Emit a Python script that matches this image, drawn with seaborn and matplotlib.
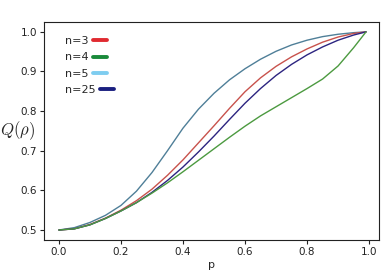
import matplotlib
matplotlib.use('Agg')
import matplotlib.pyplot as plt
from matplotlib.lines import Line2D
import pandas as pd
import seaborn as sns

sns.set_theme(style='ticks')
plt.rcParams['font.family'] = ['DejaVu Sans']
plt.rcParams['mathtext.fontset'] = 'cm'

# values
p = [0, .05, .1, .15, .2, .25, .3, .35, .4, .45, .5,
     .55, .6, .65, .7, .75, .8, .85, .9, .95, .99]
q_n5 = [0.5, 0.506, 0.519, 0.537, 0.562, 0.598, 0.645, 0.70, 0.757, 0.805, 0.845,
        0.879, 0.907, 0.931, 0.951, 0.967, 0.979, 0.988, 0.994, 0.998, 1.0]
q_n3 = [0.5, 0.503, 0.514, 0.53, 0.55, 0.574, 0.603, 0.638, 0.677, 0.72, 0.763,
        0.807, 0.849, 0.884, 0.913, 0.937, 0.957, 0.974, 0.987, 0.996, 1.0]
q_n25 = [0.5, 0.503, 0.513, 0.529, 0.548, 0.569, 0.595, 0.625, 0.659, 0.697, 0.737,
         0.779, 0.82, 0.857, 0.89, 0.918, 0.942, 0.962, 0.979, 0.992, 1.0]
q_n4 = [0.5, 0.503, 0.513, 0.529, 0.548, 0.569, 0.593, 0.619, 0.647, 0.676, 0.705,
        0.734, 0.762, 0.788, 0.811, 0.834, 0.857, 0.881, 0.914, 0.96, 1.0]

labels = ['n=3', 'n=4', 'n=5', 'n=25']
legend_colors = ['#e02a30', '#1a8a3a', '#7ecdf0', '#1a1f80']

df = pd.DataFrame({
    'p': p * 4,
    'Q': q_n5 + q_n3 + q_n25 + q_n4,
    'n': ['n=5'] * len(p) + ['n=3'] * len(p) + ['n=25'] * len(p) + ['n=4'] * len(p),
})
line_colors = {'n=5': '#4f7f98', 'n=3': '#c8524c', 'n=25': '#2c2480', 'n=4': '#4c9a40'}

fig = plt.figure(figsize=(3.86, 2.78), dpi=100)
ax = fig.add_axes([0.114, 0.137, 0.868, 0.784])
sns.lineplot(data=df, x='p', y='Q', hue='n', palette=line_colors,
             linewidth=1.0, legend=False, ax=ax)

ax.set_xlim(-0.048, 1.032)
ax.set_ylim(0.475, 1.025)
ax.set_xticks([0.0, 0.2, 0.4, 0.6, 0.8, 1.0])
ax.set_yticks([0.5, 0.6, 0.7, 0.8, 0.9, 1.0])
ax.tick_params(labelsize=7.5, length=3, width=0.8, colors='#222222', pad=2)
for s in ax.spines.values():
    s.set_color('#222222')
    s.set_linewidth(0.8)

ax.set_xlabel('p', fontsize=8, labelpad=2)
ax.set_ylabel(r'$Q(\rho)$', fontsize=12, rotation=0, ha='right', va='center')
ax.yaxis.set_label_coords(-0.025, 0.5)

handles = [Line2D([], [], color=c, lw=2.8) for c in legend_colors]
leg = ax.legend(handles, labels, loc='upper left', bbox_to_anchor=(0.04, 0.97),
                frameon=False, markerfirst=False, fontsize=8, handlelength=1.3,
                handletextpad=0.35, labelspacing=0.55, borderpad=0.2)
# left-align the labels so each short line sits right after its text
for col in leg._legend_handle_box.get_children():
    col.align = 'baseline'

fig.savefig('out.png', dpi=100)
